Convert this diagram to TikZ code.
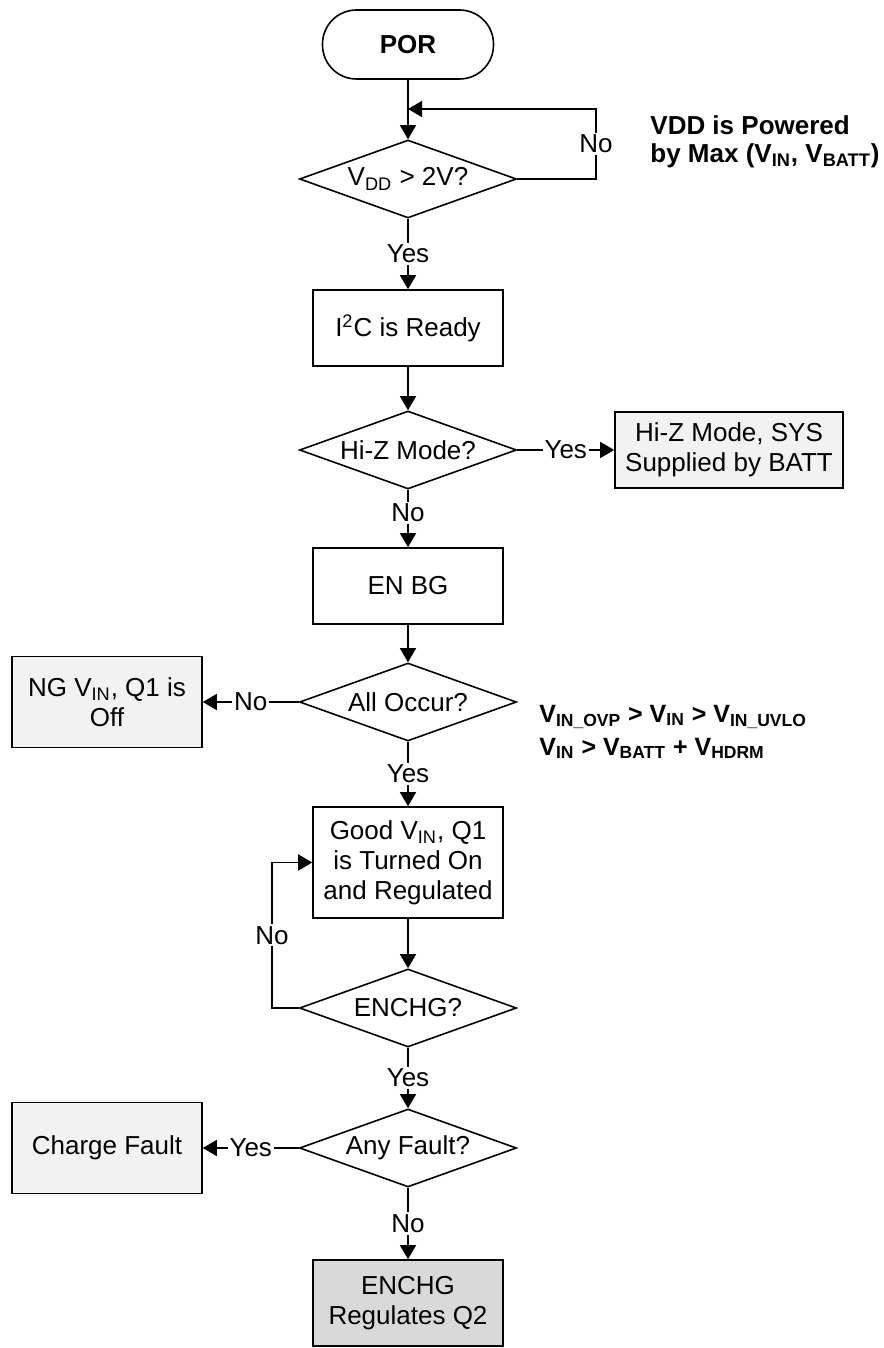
\documentclass[tikz,border=0pt]{standalone}
\usepackage{fontspec}
\setmainfont{Liberation Sans}
\usetikzlibrary{shapes.geometric,arrows.meta}

\begin{document}
\begin{tikzpicture}[x=0.5pt,y=-0.5pt,
    font=\fontsize{13}{15}\selectfont,
    box/.style={draw, line width=0.8pt, minimum width=95pt, minimum height=38pt, align=center, inner sep=1pt},
    sidebox/.style={box, fill=gray!10},
    endbox/.style={box, fill=gray!30},
    test/.style={draw, diamond, line width=0.8pt, aspect=2.78, minimum width=108.5pt, minimum height=39pt, inner sep=0pt},
    arr/.style={line width=0.8pt, -{Triangle[length=7pt,width=8pt]}},
    lbl/.style={fill=white, inner sep=1pt}]
    \useasboundingbox (0,0) rectangle (883,1348);

    % Start
    \node[draw, line width=0.8pt, rounded corners=17pt, minimum width=85.5pt, minimum height=34.5pt,
        font=\fontsize{13}{15}\selectfont\bfseries] (por) at (408,44.5) {POR};

    % Main column
    \node[test] (vdd) at (408,179) {V\textsubscript{DD} > 2V?};
    \node[box] (i2c) at (408,328) {I\textsuperscript{2}C is Ready};
    \node[test] (hiz) at (408,450) {Hi-Z Mode?};
    \node[box] (enbg) at (408,586) {EN BG};
    \node[test] (alloc) at (408,702) {All Occur?};
    \node[box, minimum height=55.5pt] (good) at (408,862.5) {Good V\textsubscript{IN}, Q1\\is Turned On\\and Regulated};
    \node[test] (enchg) at (408,1008) {ENCHG?};
    \node[test] (anyf) at (408,1148) {Any Fault?};
    \node[endbox, minimum height=43pt] (final) at (408,1303) {ENCHG\\Regulates Q2};

    % Side results
    \node[sidebox, minimum width=114pt] (hizbox) at (729,450) {Hi-Z Mode, SYS\\Supplied by BATT};
    \node[sidebox, minimum height=45.5pt] (ngbox) at (107,702) {NG V\textsubscript{IN}, Q1 is\\Off};
    \node[sidebox, minimum height=45.5pt] (cfbox) at (107,1148) {Charge Fault};

    % Notes
    \node[anchor=west, align=left, inner sep=0pt, font=\fontsize{13}{14}\selectfont\bfseries] (note) at (650,142)
        {VDD is Powered\\by Max (V\textsubscript{IN}, V\textsubscript{BATT})};
    \node[anchor=west, align=left, inner sep=0pt, font=\fontsize{12.5}{16.5}\selectfont\bfseries] (cond) at (539,732)
        {V\textsubscript{IN\_OVP} > V\textsubscript{IN} > V\textsubscript{IN\_UVLO}\\V\textsubscript{IN} > V\textsubscript{BATT} + V\textsubscript{HDRM}};

    % Loop corners
    \coordinate (loopa) at (596,109);
    \coordinate (joina) at (408,109);
    \coordinate (loopb) at (272,1008);

    % Connectors
    \draw[arr] (por) -- (vdd);
    \draw[arr] (vdd.east) -| node[lbl, pos=0.75] {No} (loopa) -- (joina);
    \draw[arr] (vdd) -- node[lbl] {Yes} (i2c);
    \draw[arr] (i2c) -- (hiz);
    \draw[arr] (hiz) -- node[lbl] {Yes} (hizbox);
    \draw[arr] (hiz) -- node[lbl, pos=0.4] {No} (enbg);
    \draw[arr] (enbg) -- (alloc);
    \draw[arr] (alloc) -- node[lbl] {No} (ngbox);
    \draw[arr] (alloc) -- node[lbl] {Yes} (good);
    \draw[arr] (good) -- (enchg);
    \draw[arr] (enchg.west) -- (loopb) |- node[lbl, pos=0.25] {No} (good.west);
    \draw[arr] (enchg) -- node[lbl] {Yes} (anyf);
    \draw[arr] (anyf) -- node[lbl] {Yes} (cfbox);
    \draw[arr] (anyf) -- node[lbl] {No} (final);
\end{tikzpicture}
\end{document}
